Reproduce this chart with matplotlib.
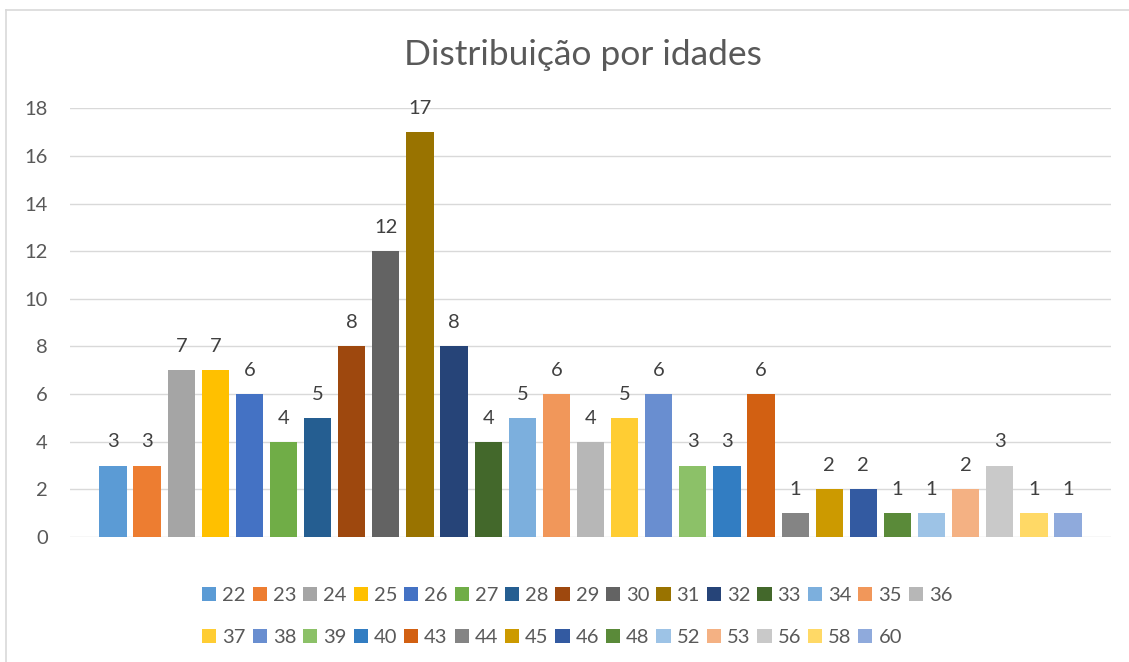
import matplotlib
matplotlib.use("Agg")
import matplotlib.pyplot as plt
from matplotlib.lines import Line2D

# ---- data ----
ages = ["22", "23", "24", "25", "26", "27", "28", "29", "30", "31",
        "32", "33", "34", "35", "36", "37", "38", "39", "40", "43",
        "44", "45", "46", "48", "52", "53", "56", "58", "60"]
counts = [3, 3, 7, 7, 6, 4, 5, 8, 12, 17,
          8, 4, 5, 6, 4, 5, 6, 3, 3, 6,
          1, 2, 2, 1, 1, 2, 3, 1, 1]
colors = ["#5B9BD5", "#ED7D31", "#A5A5A5", "#FFC000", "#4472C4", "#70AD47",
          "#255E91", "#9E480E", "#636363", "#997300", "#264478", "#43682B",
          "#7CAFDD", "#F1975A", "#B7B7B7", "#FFCD33", "#698ED0", "#8CC168",
          "#327DC2", "#D26012", "#848484", "#CC9A00", "#335AA1", "#5A8A39",
          "#9DC3E6", "#F4B183", "#C9C9C9", "#FFD966", "#8FAADC"]
yticks = [0, 2, 4, 6, 8, 10, 12, 14, 16, 18]

plt.rcParams["font.family"] = ["Lato", "DejaVu Sans"]

W, H = 1129, 662
fig = plt.figure(figsize=(W / 100, H / 100), dpi=100)
ax = fig.add_axes([70 / W, 1 - 537 / H, (1111 - 70) / W, (537 - 108.3) / H])

handles = []
for i, (a, c, col) in enumerate(zip(ages, counts, colors)):
    b = ax.bar(i, c, width=0.8, color=col, label=a, zorder=3)
    handles.append(b)
    ax.annotate(str(c), (i, c), xytext=(0, 13), textcoords="offset points",
                ha="center", va="baseline", fontsize=14.5, color="#404040")

ax.set_xlim(-1.26, len(ages) - 1 + 1.26)
ax.set_ylim(0, 18)
ax.set_yticks(yticks)
ax.set_xticks([])
ax.yaxis.grid(True, color="#D9D9D9", linewidth=1.0, zorder=0)
ax.set_axisbelow(True)
for s in ax.spines.values():
    s.set_visible(False)
ax.tick_params(axis="y", length=0, pad=16, labelsize=14.5, labelcolor="#595959")

fig.text(583 / W, 1 - 65 / H, "Distribuição por idades", ha="center",
         va="baseline", fontsize=25.5, color="#595959")

# legend is filled column by column, so reorder to read row by row (15 per row)
ncol = 15
order = []
for j in range(ncol):
    for r in range(2):
        k = r * ncol + j
        if k < len(ages):
            order.append(k)
fig.legend(handles=[handles[k] for k in order], labels=[ages[k] for k in order],
           ncol=ncol, loc="upper left",
           bbox_to_anchor=(192 / W, 1 - 577 / H), frameon=False, fontsize=14.5,
           handlelength=0.7, handleheight=0.7, handletextpad=0.3,
           columnspacing=0.34, labelspacing=1.25, borderpad=0,
           labelcolor="#595959")

# chart border (partially cropped in the original)
fig.add_artist(Line2D([5.5 / W, 5.5 / W], [0, 1 - 10 / H], color="#D9D9D9",
                      linewidth=1.2, transform=fig.transFigure))
fig.add_artist(Line2D([5.5 / W, 1], [1 - 10 / H, 1 - 10 / H], color="#D9D9D9",
                      linewidth=1.2, transform=fig.transFigure))

fig.savefig("out.png", dpi=100)
